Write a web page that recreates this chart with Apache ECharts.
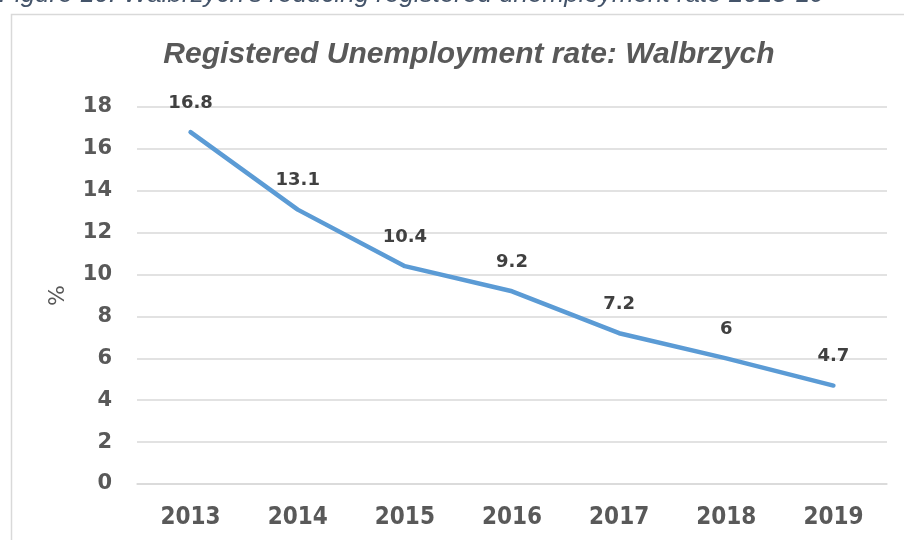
<!DOCTYPE html>
<html>
<head>
<meta charset="utf-8">
<style>
  html, body { margin: 0; padding: 0; background: #fff; }
  #chart { width: 904px; height: 540px; }
</style>
<script src="https://cdn.jsdelivr.net/npm/echarts@6/dist/echarts.min.js"></script>
</head>
<body>
<div id="chart"></div>
<script>
// registered unemployment rate, Walbrzych
const years = ['2013', '2014', '2015', '2016', '2017', '2018', '2019'];
const rates = [16.8, 13.1, 10.4, 9.2, 7.2, 6, 4.7];
const captionText = "Figure 10: Walbrzych's reducing registered unemployment rate 2013-19";
const titleText = 'Registered Unemployment rate: Walbrzych';

const chart = echarts.init(document.getElementById('chart'));

const option = {
  backgroundColor: '#fff',
  animation: false,
  graphic: [
    {
      type: 'rect',
      shape: { x: 11.5, y: 14.5, width: 1000, height: 700 },
      style: { fill: '#fff', stroke: '#d9d9d9', lineWidth: 1.5 },
      z: -10
    },
    {
      type: 'text',
      x: -1,
      y: 8,
      style: {
        text: captionText,
        fill: '#44546a',
        font: 'italic 26px "Liberation Sans", Arial, sans-serif',
        textVerticalAlign: 'bottom'
      }
    },
    {
      type: 'text',
      x: 469,
      y: 55,
      style: {
        text: titleText,
        fill: '#595959',
        font: 'italic bold 30px "Liberation Sans", Arial, sans-serif',
        textAlign: 'center',
        textVerticalAlign: 'middle'
      }
    }
  ],
  grid: {
    left: 137,
    top: 107,
    width: 750,
    height: 377,
    outerBoundsMode: 'none'
  },
  xAxis: {
    type: 'category',
    data: years,
    boundaryGap: true,
    axisLine: { lineStyle: { color: '#d9d9d9', width: 1.5 } },
    axisTick: { show: false },
    axisLabel: {
      color: '#595959',
      fontSize: 24,
      fontWeight: 'bold',
      fontFamily: '"Liberation Sans Narrow", "DejaVu Sans Condensed", "Liberation Sans", sans-serif',
      margin: 22
    }
  },
  yAxis: {
    type: 'value',
    min: 0,
    max: 18,
    interval: 2,
    name: '%',
    nameLocation: 'middle',
    nameRotate: 90,
    nameGap: 68,
    nameTextStyle: {
      color: '#595959',
      fontSize: 22,
      fontFamily: '"DejaVu Sans", sans-serif'
    },
    axisLine: { show: false },
    axisTick: { show: false },
    axisLabel: {
      color: '#595959',
      fontSize: 21,
      fontWeight: 'bold',
      fontFamily: '"DejaVu Sans", sans-serif',
      margin: 25
    },
    splitLine: { lineStyle: { color: '#d9d9d9', width: 1.5 } }
  },
  series: [
    {
      type: 'line',
      data: rates,
      symbol: 'circle',
      symbolSize: 0.1,
      itemStyle: { color: '#5b9bd5' },
      lineStyle: { color: '#5b9bd5', width: 4.5, cap: 'round', join: 'round' },
      label: {
        show: true,
        position: 'top',
        distance: 20,
        color: '#404040',
        fontSize: 18,
        fontWeight: 'bold',
        fontFamily: '"DejaVu Sans", sans-serif'
      }
    }
  ]
};

chart.setOption(option);
</script>
</body>
</html>
